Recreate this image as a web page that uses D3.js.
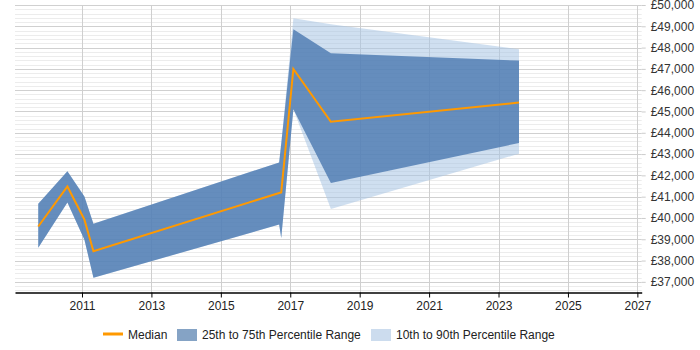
<!DOCTYPE html>
<html>
<head>
  <script src="https://d3js.org/d3.v7.min.js"></script>
  <style>
    body { margin: 0; background: #fff; }
    text { font-family: "Liberation Sans", Arial, sans-serif; }
  </style>
</head>
<body>
  <script>
    // Data (decimal years)
    const years  = [2009.74, 2010.58, 2011.07, 2011.33, 2016.68, 2016.74, 2017.09, 2018.17, 2023.59];
    const median = [39600, 41480, 39920, 38440, 41170, 41200, 47000, 44520, 45420];
    const p25    = [38600, 40730, 38980, 37190, 39690, 39060, 45110, 41640, 43520];
    const p75    = [40670, 42190, 41010, 39730, 42610, 43480, 48860, 47740, 47390];
    const p10    = [38600, 40730, 38980, 37190, 39690, 39060, 45110, 40420, 43020];
    const p90    = [40670, 42190, 41010, 39730, 42610, 43480, 49380, 49100, 47920];
    const xTicks = [2011, 2013, 2015, 2017, 2019, 2021, 2023, 2025, 2027];
    const yTicks = d3.range(37000, 50001, 1000);

    const width = 700, height = 350;
    const plotLeft = 15, plotRight = 641.7, plotTop = 5, plotBottom = 292.5;

    const svg = d3.select("body")
      .append("svg")
        .attr("width", width)
        .attr("height", height);

    const x = d3.scaleLinear()
      .domain([2009.07, 2027.125])
      .range([plotLeft, plotRight]);

    const y = d3.scaleLinear()
      .domain([36500, 50000])
      .range([plotBottom, plotTop]);

    const rows = years.map((yr, i) => ({
      yr: yr, med: median[i], p10: p10[i], p25: p25[i], p75: p75[i], p90: p90[i]
    }));

    // Minor gridlines every 200
    svg.append("g")
      .selectAll("line")
      .data(d3.range(36600, 50000, 200).filter(v => v % 1000 !== 0))
      .join("line")
        .attr("x1", plotLeft).attr("x2", plotRight)
        .attr("y1", d => Math.round(y(d)) + 0.5)
        .attr("y2", d => Math.round(y(d)) + 0.5)
        .attr("stroke", "#ececec");

    // Major gridlines
    svg.append("g")
      .selectAll("line")
      .data(yTicks)
      .join("line")
        .attr("x1", plotLeft).attr("x2", plotRight)
        .attr("y1", d => Math.round(y(d)) + 0.5)
        .attr("y2", d => Math.round(y(d)) + 0.5)
        .attr("stroke", "#d0d0d0");

    // Vertical gridlines
    svg.append("g")
      .selectAll("line")
      .data(xTicks)
      .join("line")
        .attr("x1", d => Math.round(x(d)) + 0.5)
        .attr("x2", d => Math.round(x(d)) + 0.5)
        .attr("y1", plotTop).attr("y2", plotBottom)
        .attr("stroke", "#cfcfcf");

    // Bands
    svg.append("path")
      .datum(rows)
      .attr("fill", "#a8c4e3")
      .attr("fill-opacity", 0.55)
      .attr("d", d3.area()
        .x(d => x(d.yr))
        .y0(d => y(d.p10))
        .y1(d => y(d.p90)));

    svg.append("path")
      .datum(rows)
      .attr("fill", "#4a78b0")
      .attr("fill-opacity", 0.8)
      .attr("d", d3.area()
        .x(d => x(d.yr))
        .y0(d => y(d.p25))
        .y1(d => y(d.p75)));

    // Median line
    svg.append("path")
      .datum(rows)
      .attr("fill", "none")
      .attr("stroke", "#ff9900")
      .attr("stroke-width", 2)
      .attr("d", d3.line()
        .x(d => x(d.yr))
        .y(d => y(d.med)));

    // X axis
    svg.append("g")
      .attr("transform", `translate(0, ${plotBottom})`)
      .call(d3.axisBottom(x).tickValues(xTicks).tickFormat(d3.format("d")).tickSize(5).tickSizeOuter(0))
      .call(g => g.select(".domain").attr("stroke", "#000").attr("stroke-width", 1.3))
      .call(g => g.selectAll("text").attr("font-size", 12).attr("fill", "#222").attr("y", 8).attr("dy", "0.8em"));

    // Y axis labels on the right
    svg.append("g")
      .attr("transform", `translate(${plotRight}, 0)`)
      .call(d3.axisRight(y).tickValues(yTicks).tickFormat(d => "£" + d3.format(",")(d)).tickSize(4))
      .call(g => g.select(".domain").remove())
      .call(g => g.selectAll(".tick line").attr("stroke", "#ccc"))
      .call(g => g.selectAll("text").attr("font-size", 12).attr("fill", "#333").attr("x", 9));

    // Legend
    const legend = svg.append("g").attr("transform", "translate(0, 334)");

    legend.append("line")
      .attr("x1", 103).attr("x2", 123)
      .attr("stroke", "#ff9900").attr("stroke-width", 3);
    legend.append("text").attr("x", 128).attr("y", 4.5).attr("font-size", 12).attr("fill", "#222").text("Median");

    legend.append("rect")
      .attr("x", 177).attr("y", -5).attr("width", 20).attr("height", 12)
      .attr("fill", "#85a3c5");
    legend.append("text").attr("x", 202).attr("y", 4.5).attr("font-size", 12).attr("fill", "#222").text("25th to 75th Percentile Range");

    legend.append("rect")
      .attr("x", 371).attr("y", -5).attr("width", 20).attr("height", 12)
      .attr("fill", "#ccdcee");
    legend.append("text").attr("x", 396).attr("y", 4.5).attr("font-size", 12).attr("fill", "#222").text("10th to 90th Percentile Range");
  </script>
</body>
</html>
